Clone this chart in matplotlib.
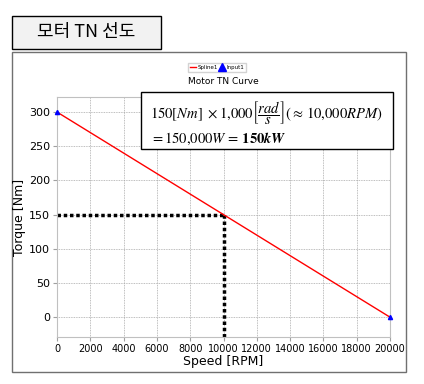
import matplotlib
matplotlib.use("Agg")
import matplotlib.pyplot as plt
from matplotlib.patches import Rectangle

plt.rcParams['font.family'] = ['DejaVu Sans']
plt.rcParams['mathtext.fontset'] = 'stix'

# TN curve data
speed = [0, 20000]
torque = [300, 0]
# rated point
rated_speed = 10000
rated_torque = 150

xticks = list(range(0, 20001, 2000))
yticks = list(range(0, 301, 50))

fig = plt.figure(figsize=(4.24, 3.84), dpi=100)
W, H = 424, 384

def fx(px):
    return px / W

def fy(py):
    return 1 - py / H

# title box
fig.patches.append(Rectangle((fx(12), fy(49)), fx(161) - fx(12), fy(16) - fy(49),
                             transform=fig.transFigure, facecolor='#f2f2f2',
                             edgecolor='black', linewidth=1.0, zorder=-2))
fig.text(fx(86), fy(32.5), '모터 TN 선도', ha='center', va='center', fontsize=13,
         family=['Noto Sans CJK KR', 'DejaVu Sans'])

# chart panel (behind the axes)
fig.patches.append(Rectangle((fx(12), fy(372)), fx(406) - fx(12), fy(52) - fy(372),
                             transform=fig.transFigure, facecolor='white',
                             edgecolor='#707070', linewidth=1.0, zorder=-2))

ax = fig.add_axes([fx(57), fy(337), fx(390) - fx(57), fy(97) - fy(337)])
ax.set_zorder(1)
ax.patch.set_alpha(0)
line, = ax.plot(speed, torque, color='red', linewidth=1.0, label='Spline1', zorder=3)
pts, = ax.plot(speed, torque, linestyle='none', marker='^', markersize=3,
               color='blue', label='Input1', zorder=4, clip_on=False)

# dotted guide lines to rated point
ax.plot([0, rated_speed], [rated_torque, rated_torque], color='black',
        linestyle=(0, (1, 0.8)), linewidth=2.5, zorder=2)
ax.plot([rated_speed, rated_speed], [-29, rated_torque], color='black',
        linestyle=(0, (1, 0.8)), linewidth=2.5, zorder=2)

ax.set_xlim(0, 20000)
ax.set_ylim(-29, 322)
ax.set_xticks(xticks)
ax.set_yticks(yticks)
ax.tick_params(labelsize=7, length=3, color='#a0a0a0', pad=2)
ax.tick_params(axis='y', labelsize=8)
ax.grid(True, color='#a8a8a8', linestyle=(0, (1, 1)), linewidth=0.6)
for s in ax.spines.values():
    s.set_color('#c0c0c0')
    s.set_linewidth(0.8)
ax.set_xlabel('Speed [RPM]', fontsize=9, labelpad=1)
ax.set_ylabel('Torque [Nm]', fontsize=9, labelpad=2)

# legend and chart title
fig.legend(handles=[line, pts], loc='center', bbox_to_anchor=(fx(217), fy(67.5)),
           ncol=2, fontsize=4, handlelength=1.2, handletextpad=0.2,
           columnspacing=0.2, borderpad=0.3, frameon=True, fancybox=False,
           edgecolor='#c8c8c8', markerscale=2)
fig.text(fx(223), fy(82), 'Motor TN Curve', ha='center', va='center', fontsize=6.5)

# formula box (drawn in an overlay axes so it sits above the plot)
ov = fig.add_axes([0, 0, 1, 1])
ov.set_zorder(5)
ov.patch.set_alpha(0)
ov.set_axis_off()
ov.set_xlim(0, 1)
ov.set_ylim(0, 1)
ov.add_patch(Rectangle((fx(141), fy(149)), fx(393) - fx(141), fy(92) - fy(149),
                       facecolor='white', edgecolor='black', linewidth=1.0))
ov.text(fx(150), fy(113), r'$150[Nm]\ \times 1{,}000\left[\genfrac{}{}{0.6}{0}{rad}{s}\right](\approx\, 10{,}000RPM)$',
        ha='left', va='center', fontsize=10.5)
ov.text(fx(150), fy(139), r'$=150{,}000W\, =\, \boldsymbol{150kW}$',
        ha='left', va='center', fontsize=10.5)

fig.savefig('out.png', dpi=100)
